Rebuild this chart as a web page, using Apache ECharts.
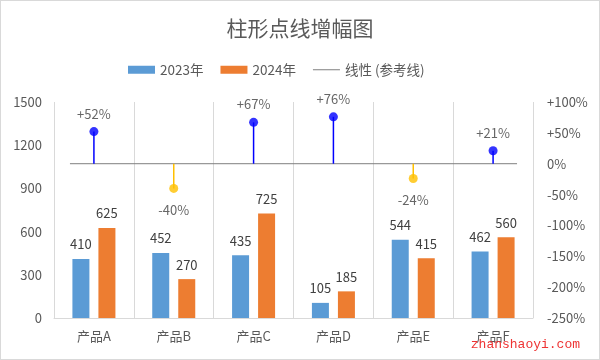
<!DOCTYPE html>
<html>
<head>
<meta charset="utf-8">
<script src="https://cdn.jsdelivr.net/npm/echarts@6/dist/echarts.min.js"></script>
<style>
html,body{margin:0;padding:0;background:#fff;}
#wrap{width:600px;height:360px;box-sizing:border-box;border:1px solid #d9d9d9;position:relative;}
#main{width:598px;height:358px;}
</style>
</head>
<body>
<div id="wrap"><div id="main"></div></div>
<script>
var categories = ['产品A', '产品B', '产品C', '产品D', '产品E', '产品F'];
var sales2023 = [410, 452, 435, 105, 544, 462];
var sales2024 = [625, 270, 725, 185, 415, 560];
var growthPct = [52, -40, 67, 76, -24, 21];
var refLineX = [0.2, 5.8];
var refLineY = [0, 0];
var leftTicks = {min: 0, max: 1500, interval: 300};
var rightTicks = {min: -250, max: 100, interval: 50};

var FONT = '"Noto Sans CJK SC", "Noto Sans", sans-serif';
var TXT = '#595959';
var POS = '#0000ff', NEG = '#ffc000';

var chart = echarts.init(document.getElementById('main'), null, {renderer: 'canvas'});
var growthData = growthPct.map(function (v) {
  return {
    value: v,
    itemStyle: {color: v >= 0 ? POS : NEG},
    label: {position: v >= 0 ? 'top' : 'bottom', distance: v >= 0 ? 7 : 11}
  };
});
var option = {
  animation: false,
  textStyle: {fontFamily: FONT},
  title: {
    text: '柱形点线增幅图', left: 'center', top: 12,
    textStyle: {fontSize: 21, fontWeight: 'normal', color: TXT, fontFamily: FONT}
  },
  legend: {
    top: 57, left: 122, itemWidth: 27, itemHeight: 8, itemGap: 17,
    textStyle: {fontSize: 13.5, color: TXT, fontFamily: FONT},
    data: [
      {name: '2023年', icon: 'rect'},
      {name: '2024年', icon: 'rect'},
      {name: '线性 (参考线)', icon: 'path://M0,3.5L27,3.5L27,4.5L0,4.5Z', itemStyle: {color: '#7f7f7f'}}
    ]
  },
  grid: {left: 53, right: 66, top: 101, bottom: 41},
  xAxis: [
    {
      type: 'category', data: categories, boundaryGap: true,
      axisLine: {lineStyle: {color: '#d9d9d9'}},
      axisTick: {show: false},
      axisLabel: {fontSize: 13, color: TXT, margin: 12, fontFamily: FONT},
      splitLine: {show: true, lineStyle: {color: '#d9d9d9'}}
    },
    {type: 'category', data: categories, show: false},
    {type: 'value', min: 0, max: 6, show: false}
  ],
  yAxis: [
    {
      type: 'value', min: leftTicks.min, max: leftTicks.max, interval: leftTicks.interval,
      axisLine: {show: false}, axisTick: {show: false}, splitLine: {show: false},
      axisLabel: {fontSize: 13, color: TXT, margin: 12, fontFamily: FONT,
        formatter: function (v) { return String(v); }}
    },
    {
      type: 'value', position: 'right', min: rightTicks.min, max: rightTicks.max, interval: rightTicks.interval,
      axisLine: {show: false}, axisTick: {show: false}, splitLine: {show: false},
      axisLabel: {
        fontSize: 13, color: TXT, margin: 14, fontFamily: FONT,
        formatter: function (v) { return (v > 0 ? '+' : '') + v + '%'; }
      }
    }
  ],
  series: [
    {
      name: '2023年', type: 'bar', data: sales2023, barWidth: 17, barGap: '53%',
      itemStyle: {color: '#5b9bd5'},
      label: {show: true, position: 'top', distance: 8, fontSize: 13, color: '#404040', fontFamily: FONT}
    },
    {
      name: '2024年', type: 'bar', data: sales2024, barWidth: 17,
      itemStyle: {color: '#ed7d31'},
      label: {show: true, position: 'top', distance: 8, fontSize: 13, color: '#404040', fontFamily: FONT}
    },
    {
      name: 'stem', type: 'bar', xAxisIndex: 1, yAxisIndex: 1, barWidth: 1.5,
      data: growthPct.map(function (v) { return {value: v, itemStyle: {color: v >= 0 ? POS : NEG}}; }),
      z: 3, silent: true
    },
    {
      name: '线性 (参考线)', type: 'line', xAxisIndex: 2, yAxisIndex: 1,
      data: refLineX.map(function (x, i) { return [x, refLineY[i]]; }),
      symbol: 'none', lineStyle: {color: '#7f7f7f', width: 1}, itemStyle: {color: '#7f7f7f'}, z: 2
    },
    {
      name: 'growth', type: 'scatter', xAxisIndex: 1, yAxisIndex: 1, symbolSize: 9,
      data: growthData, z: 5,
      label: {
        show: true, fontSize: 13, color: '#404040', fontFamily: FONT,
        formatter: function (p) { return (p.value > 0 ? '+' : '') + p.value + '%'; }
      }
    }
  ],
  graphic: [{
    type: 'text', right: 19, bottom: 8,
    style: {text: 'zhanshaoyi.com', fill: '#ee3333', font: '13px "Liberation Mono", monospace'},
    z: 100
  }]
};
chart.setOption(option);
</script>
</body>
</html>
